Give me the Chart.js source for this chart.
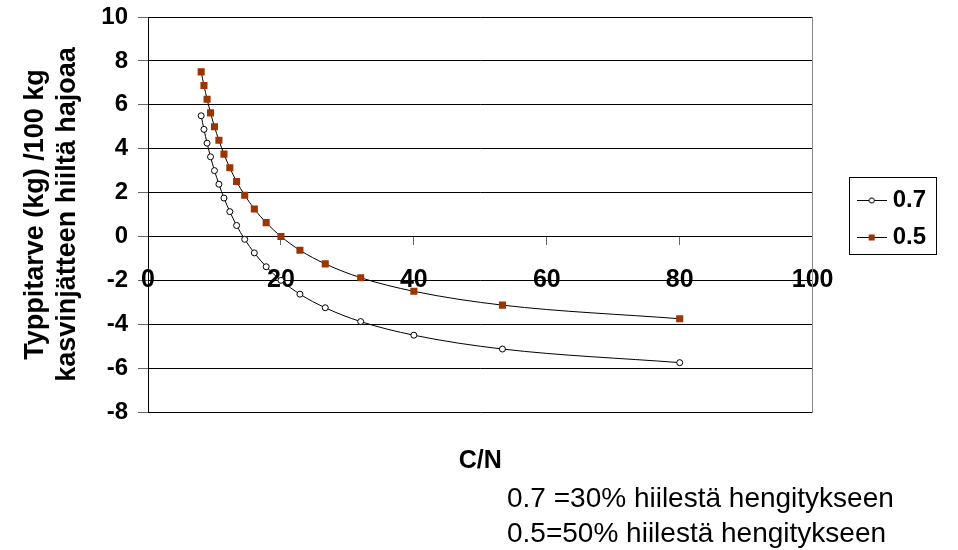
<!DOCTYPE html>
<html>
<head>
<meta charset="utf-8">
<style>
  html, body { margin: 0; padding: 0; background: #fff; }
  #wrap { width: 958px; height: 550px; position: relative; }
</style>
<script src="https://cdn.jsdelivr.net/npm/chart.js@4/dist/chart.umd.min.js"></script>
</head>
<body>
<div id="wrap"><canvas id="c" width="958" height="550"></canvas></div>
<script>
// C/N ratio of the decomposing residue
const cnRatio = [8, 8.42, 8.89, 9.41, 10, 10.67, 11.43, 12.31, 13.33, 14.55, 16, 17.78, 20, 22.86, 26.67, 32, 40, 53.33, 80];
// Nitrogen balance (kg) per 100 kg residue carbon
const need07 = [5.5, 4.88, 4.25, 3.63, 3.0, 2.38, 1.75, 1.13, 0.5, -0.13, -0.75, -1.38, -2.0, -2.63, -3.25, -3.88, -4.5, -5.13, -5.75];
const need05 = [7.5, 6.88, 6.25, 5.63, 5.0, 4.38, 3.75, 3.13, 2.5, 1.88, 1.25, 0.63, 0.0, -0.63, -1.25, -1.88, -2.5, -3.13, -3.75];
const seriesNames = ['0.7', '0.5'];
const yTitle = ['Typpitarve (kg) /100 kg', 'kasvinjätteen hiiltä hajoaa'];
const xTitle = 'C/N';
const notes = ['0.7 =30% hiilestä hengitykseen', '0.5=50% hiilestä hengitykseen'];

const FONT = "'Liberation Sans', Arial, sans-serif";
const RUST = '#9C3500';

function pts(ys) { return cnRatio.map((x, i) => ({ x: x, y: ys[i] })); }

// small line+marker swatches for the legend
function swatch(kind) {
  const c = document.createElement('canvas');
  c.width = 30; c.height = 12;
  const g = c.getContext('2d');
  g.strokeStyle = '#000'; g.lineWidth = 1;
  g.beginPath(); g.moveTo(0, 6.5); g.lineTo(30, 6.5); g.stroke();
  if (kind === 'circle') {
    g.fillStyle = '#fff';
    g.beginPath(); g.arc(15, 6.5, 2.6, 0, Math.PI * 2); g.fill(); g.stroke();
  } else {
    g.fillStyle = RUST;
    g.fillRect(12, 3.5, 6, 6);
  }
  return c;
}
const swatches = [swatch('circle'), swatch('rect')];

const framePlugin = {
  id: 'frame',
  afterDraw(chart) {
    const ctx = chart.ctx;
    const ca = chart.chartArea;
    // legend border
    const hb = chart.legend.legendHitBoxes;
    if (hb && hb.length) {
      const c0 = hb[0].top + hb[0].height / 2;
      const c1 = hb[hb.length - 1].top + hb[hb.length - 1].height / 2;
      const l = Math.round(hb[0].left - 14) + 0.5;
      ctx.save();
      ctx.strokeStyle = '#000'; ctx.lineWidth = 1;
      ctx.strokeRect(l, Math.round(c0 - 23) + 0.5, 87, Math.round(c1 - c0 + 40));
      ctx.restore();
    }
    ctx.save();
    ctx.fillStyle = '#000';
    ctx.textBaseline = 'alphabetic';
    ctx.font = 'bold 25px ' + FONT;
    ctx.textAlign = 'center';
    ctx.fillText(xTitle, (ca.left + ca.right) / 2, ca.bottom + 56);
    ctx.font = '28px ' + FONT;
    ctx.textAlign = 'left';
    ctx.fillText(notes[0], 507, ca.bottom + 95);
    ctx.fillText(notes[1], 507, ca.bottom + 130);
    ctx.restore();
  }
};

new Chart(document.getElementById('c'), {
  type: 'line',
  data: {
    datasets: [
      {
        label: seriesNames[0],
        data: pts(need07),
        borderColor: '#000', borderWidth: 1,
        pointStyle: 'circle', pointRadius: 3,
        pointBackgroundColor: '#fff', pointBorderColor: '#000', pointBorderWidth: 1,
        cubicInterpolationMode: 'monotone', fill: false
      },
      {
        label: seriesNames[1],
        data: pts(need05),
        borderColor: '#000', borderWidth: 1,
        pointStyle: 'rect', pointRadius: 5,
        pointBackgroundColor: RUST, pointBorderColor: RUST, pointBorderWidth: 0,
        cubicInterpolationMode: 'monotone', fill: false
      }
    ]
  },
  options: {
    responsive: false,
    animation: false,
    layout: { padding: { left: 10, top: 17, right: 22, bottom: 138 } },
    plugins: {
      tooltip: { enabled: false },
      legend: {
        position: 'right',
        title: { display: true, text: ' ', padding: { top: 0, bottom: 2 }, font: { size: 5 } },
        labels: {
          usePointStyle: true,
          pointStyleWidth: 18,
          padding: 13,
          color: '#000',
          font: { family: FONT, size: 24, weight: 'bold' },
          generateLabels(chart) {
            return chart.data.datasets.map((ds, i) => ({
              text: ds.label, pointStyle: swatches[i], fillStyle: 'transparent',
              strokeStyle: 'transparent', lineWidth: 0, fontColor: '#000',
              datasetIndex: i, hidden: false
            }));
          }
        }
      }
    },
    scales: {
      x: {
        type: 'linear',
        position: { y: 0 },
        min: 0, max: 100,
        ticks: { stepSize: 20, color: '#000', padding: 21, maxRotation: 0,
                 font: { family: FONT, size: 25, weight: 'bold' } },
        grid: {
          drawOnChartArea: true, drawTicks: true, tickLength: 8, tickColor: '#666',
          color: c => (c.tick && c.tick.value === 100) ? '#888' : 'rgba(0,0,0,0)'
        },
        border: { display: true, color: '#000', width: 1 }
      },
      y: {
        position: 'left',
        min: -8, max: 10,
        afterFit(s) { s.width = 138; s.paddingTop = 0; s.paddingBottom = 0; },
        ticks: { stepSize: 2, color: '#000', padding: 10,
                 font: { family: FONT, size: 24, weight: 'bold' } },
        grid: { color: '#000', lineWidth: 1, drawTicks: true, tickLength: 10, tickColor: '#666' },
        border: { display: true, color: '#000', width: 1 },
        title: {
          display: true, text: yTitle, color: '#000',
          padding: { top: 10, bottom: 0 },
          font: { family: FONT, size: 27, weight: 'bold', lineHeight: '32px' }
        }
      },
      yEdge: {
        position: 'right',
        afterFit(s) { s.width = 37; s.paddingTop = 0; s.paddingBottom = 0; },
        ticks: { display: false },
        grid: { display: false, drawTicks: false },
        border: { display: true, color: '#888', width: 1 }
      }
    }
  },
  plugins: [framePlugin]
});
</script>
</body>
</html>
